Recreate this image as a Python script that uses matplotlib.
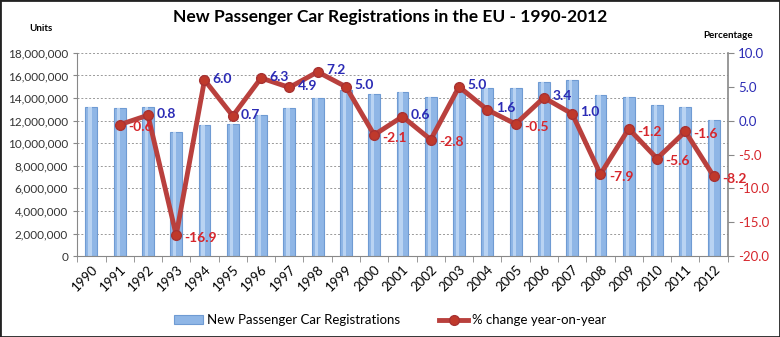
import matplotlib.pyplot as plt
import matplotlib as mpl
import numpy as np

mpl.rcParams['font.family'] = ['Lato', 'DejaVu Sans']

years = [str(y) for y in range(1990, 2013)]
registrations = [13.2e6, 13.1e6, 13.2e6, 11.0e6, 11.6e6, 11.7e6, 12.5e6, 13.1e6,
                 14.0e6, 14.7e6, 14.4e6, 14.5e6, 14.1e6, 14.5e6, 14.9e6, 14.9e6,
                 15.4e6, 15.6e6, 14.3e6, 14.1e6, 13.4e6, 13.2e6, 12.1e6]
# % change year-on-year, starts in 1991
pct_change = [-0.6, 0.8, -16.9, 6.0, 0.7, 6.3, 4.9, 7.2, 5.0, -2.1, 0.6,
              -2.8, 5.0, 1.6, -0.5, 3.4, 1.0, -7.9, -1.2, -5.6, -1.6, -8.2]

BLUE_TXT = '#2b2bb5'
RED_TXT = '#d6262c'
LINE_RED = '#b9403d'

fig = plt.figure(figsize=(7.8, 3.37), dpi=100)
ax = fig.add_axes([0.099, 0.240, 0.834, 0.603])

x = np.arange(len(years))
ax.bar(x, registrations, width=0.42, color='#8fb6e6', edgecolor='#6f9bd3',
       linewidth=0.8, zorder=2, label='New Passenger Car Registrations')
# light highlight to mimic the cylinder look
ax.bar(x - 0.05, registrations, width=0.12, color='#b9d3f2', linewidth=0, zorder=2)

ax.set_ylim(0, 18e6)
ax.set_yticks(np.arange(0, 18e6 + 1, 2e6))
ax.yaxis.set_major_formatter(mpl.ticker.FuncFormatter(lambda v, p: f'{int(v):,}'))
ax.set_xlim(-0.5, len(years) - 0.5)
ax.set_xticks(x)
ax.set_xticklabels(years, rotation=45, ha='right', rotation_mode='anchor', fontsize=9.5)
ax.set_xticks(np.arange(-0.5, len(years)), minor=True)
ax.tick_params(axis='x', which='major', length=0, pad=5)
ax.tick_params(axis='x', which='minor', length=4, color='#888888')
ax.tick_params(axis='y', labelsize=8.5, labelcolor='#333333', color='#888888', length=3)
ax.grid(axis='y', linestyle=(0, (2, 2)), color='#999999', linewidth=0.7, zorder=0)
ax.spines['top'].set_visible(False)
ax.spines['right'].set_visible(False)
for s in ['left', 'bottom']:
    ax.spines[s].set_color('#888888')

ax2 = ax.twinx()
x2 = x[1:]
ax2.plot(x2, pct_change, color=LINE_RED, linewidth=3.5, marker='o', markersize=7,
         markerfacecolor='#c0392b', markeredgecolor='#a83232', zorder=3,
         label='% change year-on-year')
ax2.set_ylim(-20, 10)
ax2.set_yticks(np.arange(-20, 10.1, 5))
ax2.set_yticklabels([f'{v:.1f}' for v in np.arange(-20, 10.1, 5)], fontsize=9.5)
for lbl, v in zip(ax2.get_yticklabels(), np.arange(-20, 10.1, 5)):
    lbl.set_color(BLUE_TXT if v >= 0 else RED_TXT)
ax2.tick_params(axis='y', color='#888888', length=4)
ax2.spines['right'].set_color('#888888')
ax2.spines['right'].set_linewidth(1.2)
ax2.spines['top'].set_visible(False)
ax2.spines['left'].set_visible(False)
ax2.spines['bottom'].set_visible(False)

for xi, v in zip(x2, pct_change):
    ax2.annotate(f'{v:.1f}', (xi, v), xytext=(6, 1 if v >= 0 else -2),
                 textcoords='offset points', ha='left', va='center', fontsize=10,
                 fontweight='bold', color=BLUE_TXT if v >= 0 else RED_TXT, zorder=4)

fig.text(0.5, 0.95, 'New Passenger Car Registrations in the EU - 1990-2012',
         ha='center', va='center', fontsize=12.5, fontweight='bold')
fig.text(0.052, 0.915, 'Units', ha='center', va='center', fontsize=7, fontweight='bold')
fig.text(0.933, 0.895, 'Percentage', ha='center', va='center', fontsize=7, fontweight='bold')

h1, l1 = ax.get_legend_handles_labels()
h2, l2 = ax2.get_legend_handles_labels()
fig.legend(h1[:1] + h2, l1[:1] + l2, loc='center', bbox_to_anchor=(0.5, 0.05),
           ncol=2, frameon=False, fontsize=9.5, columnspacing=3, handlelength=2.2,
           handletextpad=0.3)

fig.patches.append(mpl.patches.Rectangle((0, 0), 1, 1, transform=fig.transFigure,
                                         fill=False, edgecolor='#222222', linewidth=2))

fig.savefig('out.png', dpi=100)
